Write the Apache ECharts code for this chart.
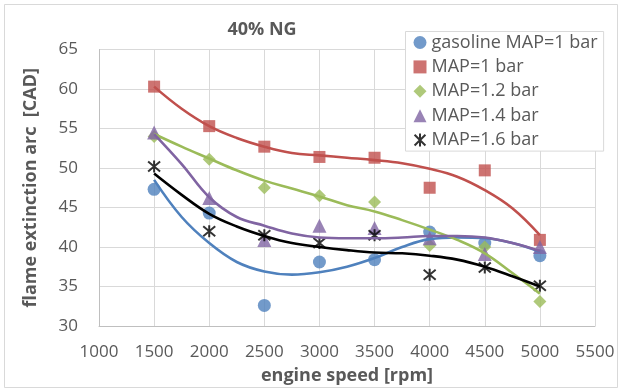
<!DOCTYPE html>
<html>
<head>
<meta charset="utf-8">
<script src="https://cdn.jsdelivr.net/npm/echarts@6/dist/echarts.min.js"></script>
<style>html,body{margin:0;padding:0;background:#fff}#c{width:622px;height:392px}</style>
</head>
<body>
<div id="c"></div>
<script>
// engine speed [rpm] of measured points
const rpm = [1500, 2000, 2500, 3000, 3500, 4000, 4500, 5000];
// measured flame extinction arc [CAD]
const gasoline = [47.3, 44.3, 32.6, 38.1, 38.4, 41.9, 40.5, 38.9];
const map10 = [60.3, 55.3, 52.7, 51.4, 51.3, 47.5, 49.7, 40.9];
const map12 = [54.0, 51.1, 47.5, 46.5, 45.7, 40.2, 40.0, 33.1];
const map14 = [54.5, 46.2, 40.9, 42.7, 42.4, 41.1, 39.1, 40.0];
const map16 = [50.2, 42.0, 41.5, 40.5, 41.5, 36.5, 37.4, 35.1];
// trendline values
const trendRpm = [1500, 1750, 2000, 2250, 2500, 2750, 3000, 3250, 3500, 3750, 4000, 4250, 4500, 4750, 5000];
const trendGasoline = [48.5, 43.8, 40.5, 38.1, 36.9, 36.5, 36.8, 37.5, 38.6, 40.0, 41.0, 41.2, 41.1, 40.5, 39.4];
const trendMap10 = [60.3, 57.5, 55.3, 53.8, 52.7, 51.9, 51.6, 51.3, 51.0, 50.6, 49.9, 48.9, 47.2, 44.9, 41.5];
const trendMap12 = [54.3, 52.7, 51.2, 49.7, 48.4, 47.4, 46.4, 45.3, 44.5, 43.4, 42.2, 40.9, 39.2, 36.7, 34.1];
const trendMap14 = [54.3, 50.5, 46.3, 43.8, 42.7, 41.7, 41.2, 41.1, 41.1, 41.2, 41.4, 41.4, 41.2, 40.5, 39.5];
const trendMap16 = [49.3, 46.6, 44.2, 42.6, 41.4, 40.5, 40.0, 39.6, 39.3, 39.2, 38.9, 38.4, 37.5, 36.3, 35.0];
const names = ['gasoline MAP=1 bar', 'MAP=1 bar', 'MAP=1.2 bar', 'MAP=1.4 bar', 'MAP=1.6 bar'];
const xTicks = [1000, 5500, 500];
const yTicks = [30, 65, 5];

const FONT = 'Open Sans';
const TXT = '#595959';
const pts = vals => rpm.map((r, i) => [r, vals[i]]);
const tpts = vals => trendRpm.map((r, i) => [r, vals[i]]);

const colors = ['#4F81BD', '#C0504D', '#9BBB59', '#8064A2', '#000000'];
const symbols = ['circle', 'rect', 'diamond', 'triangle', 'path://M0,0L10,10M10,0L0,10M5,-1L5,11'];
const sizes = [13, 12, 13, 14, 12];
const measured = [gasoline, map10, map12, map14, map16];
const trends = [trendGasoline, trendMap10, trendMap12, trendMap14, trendMap16];

const series = [];
measured.forEach((v, i) => {
  const star = i === 4;
  series.push({
    name: names[i], type: 'scatter', data: pts(v),
    symbol: symbols[i], symbolSize: sizes[i], z: 3,
    itemStyle: star ? {color: '#000', borderColor: '#000', borderWidth: 2} : {color: colors[i]},
    emphasis: {disabled: true}
  });
});
trends.forEach((v, i) => {
  series.push({
    name: 'trend ' + names[i], type: 'line', data: tpts(v), smooth: 0.4,
    showSymbol: false, symbol: 'none', z: 4,
    lineStyle: {color: colors[i], width: 2.6},
    emphasis: {disabled: true}
  });
});

const chart = echarts.init(document.getElementById('c'), null, {renderer: 'canvas'});
chart.setOption({
  animation: false,
  backgroundColor: '#fff',
  title: {
    text: '40% NG', left: 257, top: 16, textAlign: 'center',
    textStyle: {fontFamily: FONT, fontSize: 18, fontWeight: 'bold', color: TXT}
  },
  graphic: [{
    type: 'rect', shape: {x: 4.5, y: 4.5, width: 613, height: 383},
    style: {fill: 'none', stroke: '#d9d9d9', lineWidth: 1}, silent: true, z: -1
  }],
  grid: {left: 99, right: 27, top: 49.5, bottom: 66, containLabel: false},
  legend: {
    data: names, orient: 'vertical', left: 405.5, top: 31.5,
    padding: [2, 6, 2, 8], itemGap: 6.4, itemWidth: 13, itemHeight: 13,
    backgroundColor: '#fff', borderColor: '#d9d9d9', borderWidth: 1, borderRadius: 0,
    textStyle: {fontFamily: FONT, fontSize: 18, color: TXT},
    itemStyle: {}
  },
  xAxis: {
    type: 'value', min: xTicks[0], max: xTicks[1], interval: xTicks[2],
    name: 'engine speed [rpm]', nameLocation: 'middle', nameGap: 41,
    nameTextStyle: {fontFamily: FONT, fontSize: 18, fontWeight: 'bold', color: TXT},
    axisLine: {show: true, lineStyle: {color: '#bfbfbf', width: 1}},
    axisTick: {show: false},
    axisLabel: {fontFamily: FONT, fontSize: 17, color: TXT, margin: 18, formatter: v => String(v)},
    splitLine: {show: true, lineStyle: {color: '#d9d9d9', width: 1}}
  },
  yAxis: {
    type: 'value', min: yTicks[0], max: yTicks[1], interval: yTicks[2],
    name: 'flame extinction arc  [CAD]', nameLocation: 'middle', nameGap: 59,
    nameTextStyle: {fontFamily: FONT, fontSize: 18, fontWeight: 'bold', color: TXT},
    axisLine: {show: true, lineStyle: {color: '#bfbfbf', width: 1}},
    axisTick: {show: false},
    axisLabel: {fontFamily: FONT, fontSize: 17, color: TXT, margin: 21, formatter: v => String(v)},
    splitLine: {show: true, lineStyle: {color: '#d9d9d9', width: 1}}
  },
  series: series
});
</script>
</body>
</html>
